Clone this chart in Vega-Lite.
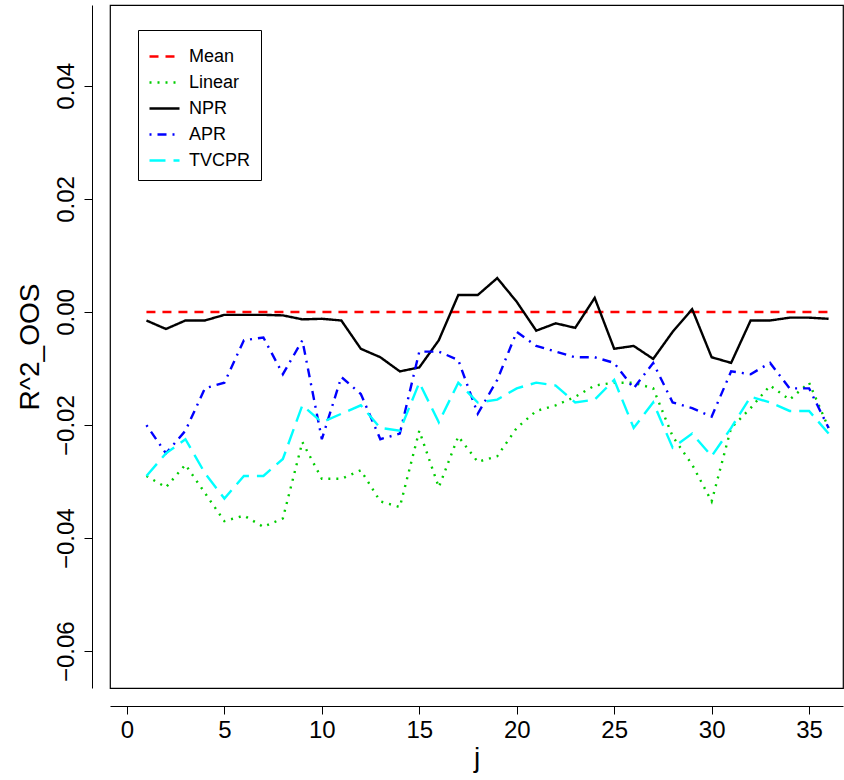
{
  "$schema": "https://vega.github.io/schema/vega-lite/v6.json",
  "autosize": {"type": "none"},
  "width": 733,
  "height": 683,
  "padding": {"left": 110, "top": 5, "right": 1, "bottom": 92},
  "background": "white",
  "config": {
    "view": {"stroke": "black", "strokeWidth": 1.2},
    "font": "Liberation Sans"
  },
  "data": {
    "values": [
      {"j":1,"Mean":0,"Linear":-0.029,"NPR":-0.0015,"APR":-0.020,"TVCPR":-0.029},
      {"j":2,"Mean":0,"Linear":-0.031,"NPR":-0.003,"APR":-0.025,"TVCPR":-0.025},
      {"j":3,"Mean":0,"Linear":-0.027,"NPR":-0.0015,"APR":-0.021,"TVCPR":-0.0225},
      {"j":4,"Mean":0,"Linear":-0.032,"NPR":-0.0015,"APR":-0.0135,"TVCPR":-0.0285},
      {"j":5,"Mean":0,"Linear":-0.037,"NPR":-0.0005,"APR":-0.0125,"TVCPR":-0.033},
      {"j":6,"Mean":0,"Linear":-0.036,"NPR":-0.0005,"APR":-0.005,"TVCPR":-0.029},
      {"j":7,"Mean":0,"Linear":-0.038,"NPR":-0.0005,"APR":-0.0045,"TVCPR":-0.029},
      {"j":8,"Mean":0,"Linear":-0.0365,"NPR":-0.0006,"APR":-0.011,"TVCPR":-0.026},
      {"j":9,"Mean":0,"Linear":-0.023,"NPR":-0.0013,"APR":-0.005,"TVCPR":-0.0165},
      {"j":10,"Mean":0,"Linear":-0.0295,"NPR":-0.0012,"APR":-0.0225,"TVCPR":-0.0195},
      {"j":11,"Mean":0,"Linear":-0.0295,"NPR":-0.0015,"APR":-0.0115,"TVCPR":-0.018},
      {"j":12,"Mean":0,"Linear":-0.028,"NPR":-0.0065,"APR":-0.0145,"TVCPR":-0.0165},
      {"j":13,"Mean":0,"Linear":-0.0335,"NPR":-0.008,"APR":-0.0225,"TVCPR":-0.0205},
      {"j":14,"Mean":0,"Linear":-0.0345,"NPR":-0.0105,"APR":-0.0215,"TVCPR":-0.021},
      {"j":15,"Mean":0,"Linear":-0.021,"NPR":-0.0098,"APR":-0.007,"TVCPR":-0.0125},
      {"j":16,"Mean":0,"Linear":-0.031,"NPR":-0.005,"APR":-0.007,"TVCPR":-0.0195},
      {"j":17,"Mean":0,"Linear":-0.022,"NPR":0.003,"APR":-0.0085,"TVCPR":-0.0125},
      {"j":18,"Mean":0,"Linear":-0.0265,"NPR":0.003,"APR":-0.018,"TVCPR":-0.016},
      {"j":19,"Mean":0,"Linear":-0.0255,"NPR":0.006,"APR":-0.012,"TVCPR":-0.0155},
      {"j":20,"Mean":0,"Linear":-0.0205,"NPR":0.0018,"APR":-0.0035,"TVCPR":-0.0135},
      {"j":21,"Mean":0,"Linear":-0.0175,"NPR":-0.0033,"APR":-0.006,"TVCPR":-0.0125},
      {"j":22,"Mean":0,"Linear":-0.0165,"NPR":-0.002,"APR":-0.007,"TVCPR":-0.013},
      {"j":23,"Mean":0,"Linear":-0.015,"NPR":-0.0028,"APR":-0.008,"TVCPR":-0.016},
      {"j":24,"Mean":0,"Linear":-0.013,"NPR":0.0025,"APR":-0.008,"TVCPR":-0.0155},
      {"j":25,"Mean":0,"Linear":-0.0125,"NPR":-0.0065,"APR":-0.009,"TVCPR":-0.012},
      {"j":26,"Mean":0,"Linear":-0.0125,"NPR":-0.006,"APR":-0.0135,"TVCPR":-0.0205},
      {"j":27,"Mean":0,"Linear":-0.0135,"NPR":-0.0083,"APR":-0.009,"TVCPR":-0.016},
      {"j":28,"Mean":0,"Linear":-0.022,"NPR":-0.0035,"APR":-0.016,"TVCPR":-0.024},
      {"j":29,"Mean":0,"Linear":-0.027,"NPR":0.0005,"APR":-0.017,"TVCPR":-0.0215},
      {"j":30,"Mean":0,"Linear":-0.0335,"NPR":-0.008,"APR":-0.0185,"TVCPR":-0.0255},
      {"j":31,"Mean":0,"Linear":-0.0205,"NPR":-0.009,"APR":-0.0105,"TVCPR":-0.0205},
      {"j":32,"Mean":0,"Linear":-0.017,"NPR":-0.0015,"APR":-0.011,"TVCPR":-0.015},
      {"j":33,"Mean":0,"Linear":-0.013,"NPR":-0.0015,"APR":-0.009,"TVCPR":-0.016},
      {"j":34,"Mean":0,"Linear":-0.0155,"NPR":-0.001,"APR":-0.0135,"TVCPR":-0.0175},
      {"j":35,"Mean":0,"Linear":-0.0125,"NPR":-0.001,"APR":-0.0135,"TVCPR":-0.0175},
      {"j":36,"Mean":0,"Linear":-0.0205,"NPR":-0.0012,"APR":-0.0205,"TVCPR":-0.0215}
    ]
  },
  "transform": [
    {"fold": ["Mean", "Linear", "NPR", "APR", "TVCPR"], "as": ["model", "value"]}
  ],
  "mark": {"type": "line", "strokeWidth": 2.4},
  "encoding": {
    "x": {
      "field": "j", "type": "quantitative", "title": "j",
      "scale": {"domain": [-0.87, 36.74], "nice": false, "zero": false},
      "axis": {
        "values": [0, 5, 10, 15, 20, 25, 30, 35], "grid": false, "offset": 18,
        "domainColor": "black", "tickColor": "black", "tickSize": 8,
        "labelFontSize": 24, "labelColor": "black", "labelPadding": 4,
        "titleFontSize": 28, "titleFontWeight": "normal", "titleColor": "black", "titlePadding": 2
      }
    },
    "y": {
      "field": "value", "type": "quantitative", "title": "R^2_OOS",
      "scale": {"domain": [-0.0665, 0.0543], "nice": false, "zero": false},
      "axis": {
        "values": [-0.06, -0.04, -0.02, 0, 0.02, 0.04], "format": ".2f", "grid": false, "offset": 18,
        "domainColor": "black", "tickColor": "black", "tickSize": 8,
        "labelFontSize": 24, "labelColor": "black", "labelAngle": -90, "labelAlign": "center", "labelBaseline": "bottom", "labelPadding": 6,
        "titleFontSize": 28, "titleFontWeight": "normal", "titleColor": "black", "titlePadding": 10
      }
    },
    "color": {
      "field": "model", "type": "nominal",
      "scale": {"domain": ["Mean", "Linear", "NPR", "APR", "TVCPR"], "range": ["#FF0000", "#00CD00", "#000000", "#0000FF", "#00FFFF"]},
      "legend": {
        "orient": "none", "legendX": 28, "legendY": 25, "title": null,
        "strokeColor": "black", "padding": 10, "fillColor": "white",
        "symbolType": "stroke", "symbolSize": 900, "symbolStrokeWidth": 2.4,
        "labelFontSize": 18, "labelColor": "black", "rowPadding": 0, "labelOffset": 8
      }
    },
    "strokeDash": {
      "field": "model", "type": "nominal",
      "scale": {"domain": ["Mean", "Linear", "NPR", "APR", "TVCPR"], "range": [[9, 7], [2, 6], [1, 0], [2, 6, 9, 6], [16, 8]]},
      "legend": null
    }
  }
}
